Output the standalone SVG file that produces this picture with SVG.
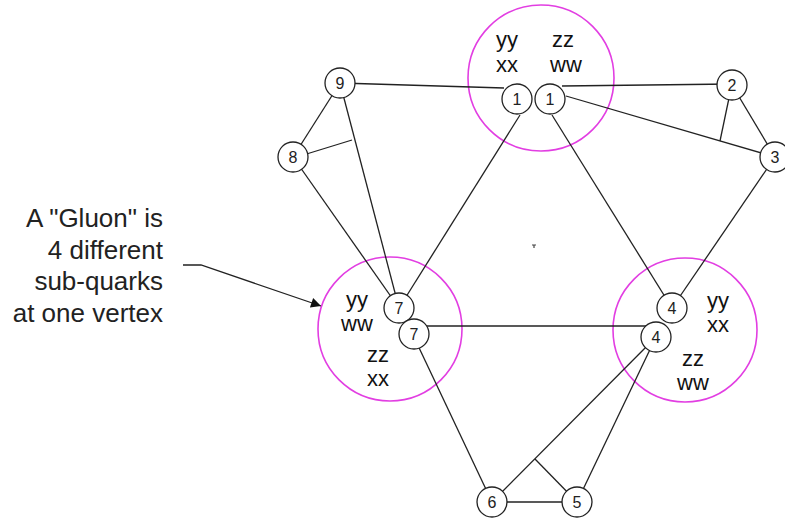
<svg xmlns="http://www.w3.org/2000/svg" width="785" height="518" viewBox="0 0 785 518">
<defs>
<style>
.e{stroke:#222;stroke-width:1.3;fill:none}
.g{stroke:#e23ee2;stroke-width:1.6;fill:none}
.n circle{fill:#fff;stroke:#222;stroke-width:1.3}
.n text{font-family:"Liberation Sans",Arial,sans-serif;font-size:16px;fill:#222;text-anchor:middle}
.q{font-family:"Liberation Sans",Arial,sans-serif;font-size:22px;fill:#111}
.lbl{font-family:"Liberation Sans",Arial,sans-serif;font-size:26px;fill:#222;text-anchor:end}
</style>
<marker id="ah" viewBox="0 0 10 10" refX="10" refY="5" markerWidth="14" markerHeight="10" markerUnits="userSpaceOnUse" orient="auto"><path d="M0,0 L10,5 L0,10 z" fill="#111"/></marker>
</defs>
<rect width="785" height="518" fill="#fff"/>
<g id="gluons">
<circle class="g" cx="541" cy="78" r="73"/>
<circle class="g" cx="390" cy="329" r="72"/>
<circle class="g" cx="685" cy="330" r="72"/>
</g>
<g id="connectors">
<line class="e" x1="340" y1="83" x2="504" y2="88"/>
<line class="e" x1="562" y1="86" x2="732" y2="84"/>
<line class="e" x1="566" y1="96" x2="775" y2="157"/>
<line class="e" x1="732" y1="85" x2="775" y2="157"/>
<line class="e" x1="729" y1="98" x2="720" y2="141"/>
<line class="e" x1="340" y1="83" x2="293" y2="157"/>
<line class="e" x1="340" y1="83" x2="399" y2="308"/>
<line class="e" x1="293" y1="157" x2="399" y2="308"/>
<line class="e" x1="300" y1="156" x2="352" y2="140"/>
<line class="e" x1="520" y1="115" x2="399" y2="308"/>
<line class="e" x1="552" y1="115" x2="672" y2="308"/>
<line class="e" x1="775" y1="157" x2="672" y2="308"/>
<line class="e" x1="413" y1="326" x2="656" y2="326"/>
<line class="e" x1="413" y1="335" x2="492" y2="502"/>
<line class="e" x1="656" y1="337" x2="492" y2="502"/>
<line class="e" x1="656" y1="337" x2="577" y2="502"/>
<line class="e" x1="535" y1="459" x2="577" y2="502"/>
<line class="e" x1="492" y1="502" x2="577" y2="502"/>
<path class="e" d="M183,265 L201,265 L321,306" marker-end="url(#ah)"/>
</g>
<g id="n1a" class="n"><circle cx="517" cy="99" r="15"/><text x="517" y="105">1</text></g>
<g id="n1b" class="n"><circle cx="550" cy="99" r="15"/><text x="550" y="105">1</text></g>
<g id="n2" class="n"><circle cx="732" cy="85" r="15"/><text x="732" y="91">2</text></g>
<g id="n3" class="n"><circle cx="775" cy="157" r="15"/><text x="775" y="163">3</text></g>
<g id="n9" class="n"><circle cx="340" cy="83" r="15"/><text x="340" y="89">9</text></g>
<g id="n8" class="n"><circle cx="293" cy="157" r="15"/><text x="293" y="163">8</text></g>
<g id="n7a" class="n"><circle cx="399" cy="308" r="15"/><text x="399" y="314">7</text></g>
<g id="n7b" class="n"><circle cx="414" cy="334" r="15"/><text x="414" y="340">7</text></g>
<g id="n4a" class="n"><circle cx="672" cy="308" r="15"/><text x="672" y="314">4</text></g>
<g id="n4b" class="n"><circle cx="656" cy="337" r="15"/><text x="656" y="343">4</text></g>
<g id="n6" class="n"><circle cx="492" cy="502" r="15"/><text x="492" y="508">6</text></g>
<g id="n5" class="n"><circle cx="577" cy="502" r="15"/><text x="577" y="508">5</text></g>
<g id="labels-top">
<text class="q" x="496" y="47">yy</text>
<text class="q" x="496" y="72">xx</text>
<text class="q" x="552" y="47">zz</text>
<text class="q" x="550" y="72">ww</text>
</g>
<g id="labels-left" text-anchor="middle">
<text class="q" x="357" y="307">yy</text>
<text class="q" x="357" y="331">ww</text>
<text class="q" x="378" y="362">zz</text>
<text class="q" x="378" y="386">xx</text>
</g>
<g id="labels-right" text-anchor="middle">
<text class="q" x="718" y="308">yy</text>
<text class="q" x="718" y="332">xx</text>
<text class="q" x="693" y="366">zz</text>
<text class="q" x="693" y="390">ww</text>
</g>
<g id="note">
<text class="lbl" x="163" y="227">A "Gluon" is</text>
<text class="lbl" x="163" y="259">4 different</text>
<text class="lbl" x="163" y="290">sub-quarks</text>
<text class="lbl" x="163" y="322">at one vertex</text>
</g>
<path d="M532,245 h4 M534,245 v3" stroke="#444" stroke-width="1.2"/>
</svg>
